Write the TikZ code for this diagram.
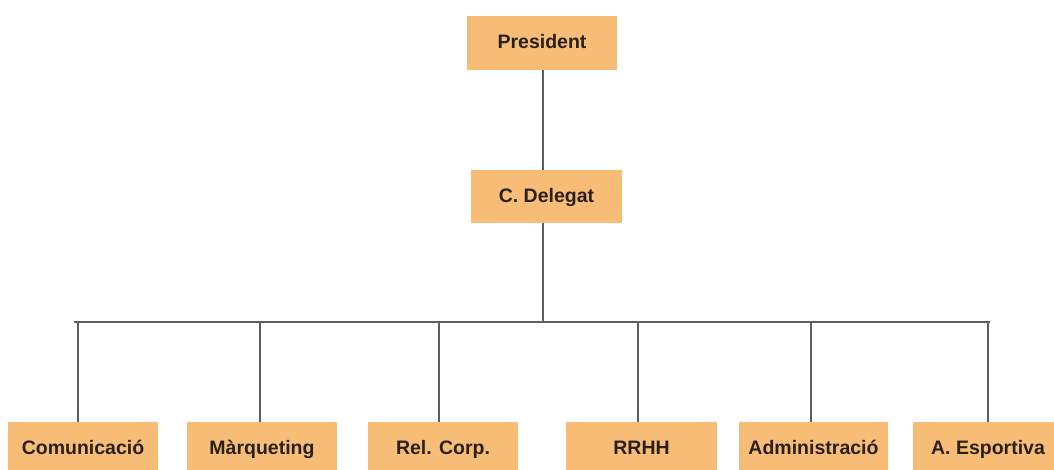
\documentclass[tikz,border=0pt]{standalone}
\usepackage{fontspec}
\setmainfont{Liberation Sans}
\definecolor{boxfill}{HTML}{F7BD77}
\definecolor{linec}{HTML}{5E5E5E}
\definecolor{txt}{HTML}{2A2019}
\begin{document}
\begin{tikzpicture}[x=1pt,y=-1pt,
  orgbox/.style={rectangle,fill=boxfill,draw=none,minimum width=150pt,minimum height=53pt,
    inner sep=0pt,text height=15pt,text depth=3pt,
    font=\fontsize{19.5}{21}\selectfont\bfseries,text=txt},
  conn/.style={draw=linec,line width=1.8pt}]
\useasboundingbox[fill=white] (0,0) rectangle (1054,470);
\node[orgbox,minimum width=150pt,minimum height=54pt] (pres) at (542,43) {President};
\node[orgbox,minimum width=151pt] (del) at (546.5,196.5) {C. Delegat};
\node[orgbox] (c1) at (83,448.5) {Comunicació};
\node[orgbox] (c2) at (262,448.5) {Màrqueting};
\node[orgbox] (c3) at (443,448.5) {Rel. Corp.};
\node[orgbox,minimum width=151pt] (c4) at (641.5,448.5) {RRHH};
\node[orgbox,minimum width=149pt] (c5) at (813.5,448.5) {Administració};
\node[orgbox] (c6) at (988,448.5) {A. Esportiva};
\coordinate (bl) at (74,322);
\coordinate (br) at (990,322);
\coordinate (bm) at (543,322);
\coordinate (b1) at (78,322);
\coordinate (b2) at (260,322);
\coordinate (b3) at (439,322);
\coordinate (b4) at (638,322);
\coordinate (b5) at (811,322);
\coordinate (b6) at (988,322);
\coordinate (pm) at (543,70);
\draw[conn] (pm) -- (pm |- del.north);
\draw[conn] (bm |- del.south) -- (bm);
\draw[conn] (bl) -- (br);
\foreach \i in {1,...,6} {\draw[conn] (b\i) -- (b\i |- c\i.north);}
\end{tikzpicture}
\end{document}
